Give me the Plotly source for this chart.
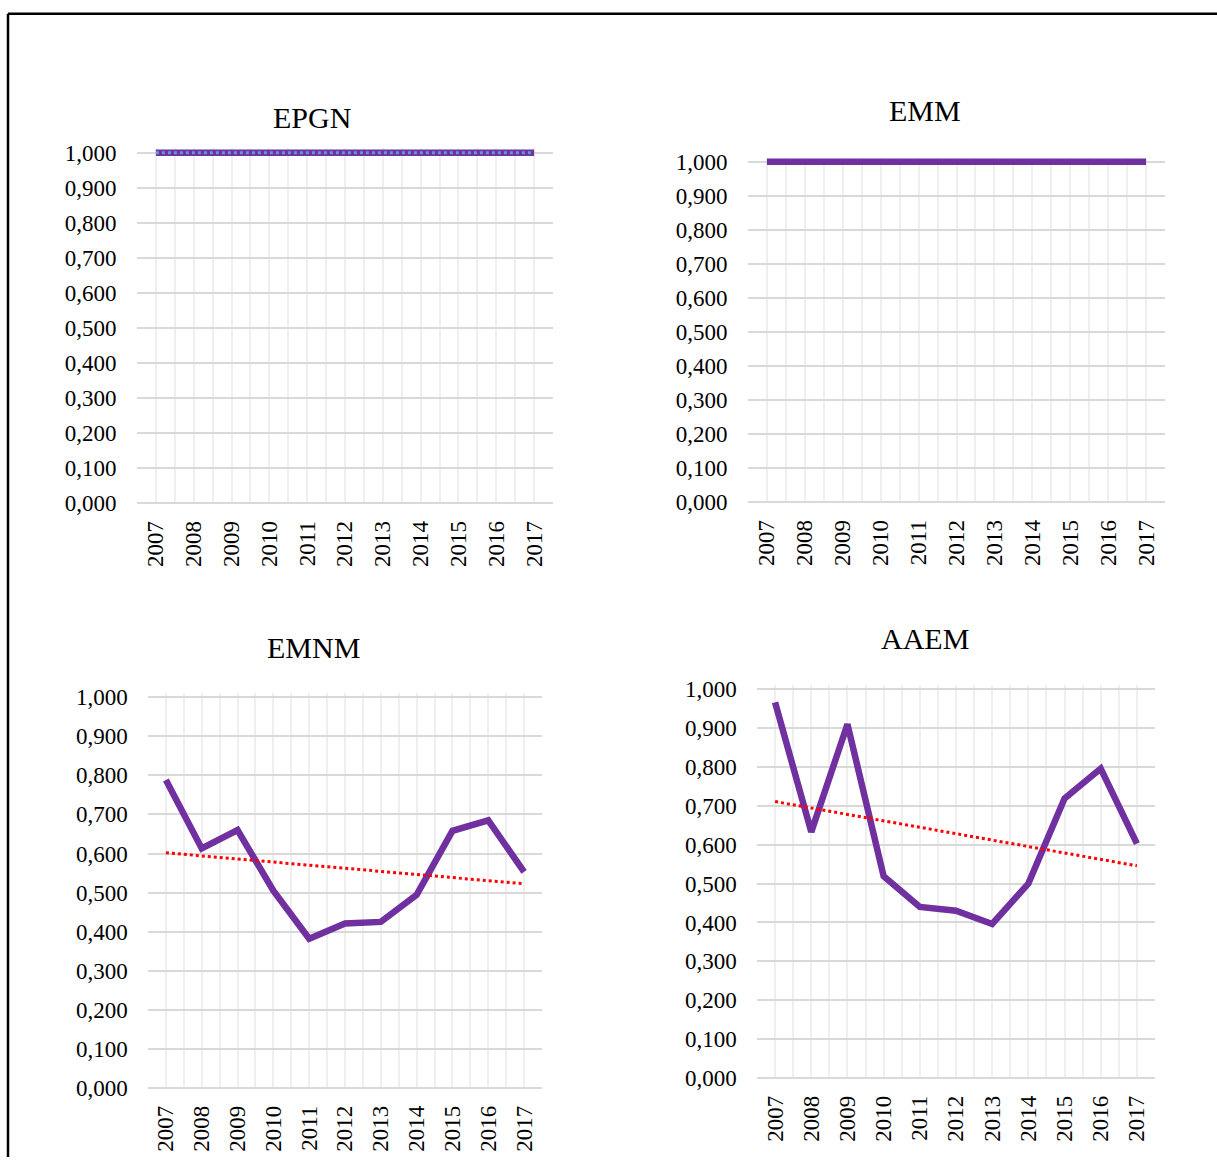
import numpy as np
import plotly.graph_objects as go

# ---- data -------------------------------------------------------------
years = [2007, 2008, 2009, 2010, 2011, 2012, 2013, 2014, 2015, 2016, 2017]
year_labels = [str(y) for y in years]

epgn = [1.000, 1.000, 1.000, 1.000, 1.000, 1.000, 1.000, 1.000, 1.000, 1.000, 1.000]
emm = [1.000, 1.000, 1.000, 1.000, 1.000, 1.000, 1.000, 1.000, 1.000, 1.000, 1.000]
emnm = [0.788, 0.613, 0.660, 0.505, 0.382, 0.421, 0.425, 0.494, 0.658, 0.685, 0.553]
aaem = [0.966, 0.633, 0.910, 0.519, 0.440, 0.430, 0.396, 0.500, 0.719, 0.796, 0.603]

y_ticks = [0.0, 0.1, 0.2, 0.3, 0.4, 0.5, 0.6, 0.7, 0.8, 0.9, 1.0]

# ---- page geometry (pixels) ----------------------------------------------
W, H = 1217, 1169
FONT = "Liberation Serif"
PURPLE = "#7030A0"

# vertical layout positions are given as page rows; the page shows the
# figure 7.2 px down and squeezed by 0.9837, so convert to figure rows
TOP_OFFSET, V_SCALE = 7.2, 0.9837


def fig_row(page_row):
    return (page_row - TOP_OFFSET) / V_SCALE


def paper_y(page_row):
    return 1 - fig_row(page_row) / H


# each panel: title, series, trend colour, title centre, plot left/right px,
# page row of value 1.0 and of 0.0
panels = [
    dict(title="EPGN", vals=epgn, trend="#5B9BD5", tpos=(312, 117),
         xl=137, xr=553, y1=152, y0=503),
    dict(title="EMM", vals=emm, trend=None, tpos=(925, 110),
         xl=748, xr=1165, y1=161, y0=502),
    dict(title="EMNM", vals=emnm, trend="#FF0000", tpos=(313, 647),
         xl=148, xr=542, y1=697, y0=1088),
    dict(title="AAEM", vals=aaem, trend="#FF0000", tpos=(925, 638),
         xl=757, xr=1155, y1=689, y0=1078),
]

X_RANGE = [2006.49, 2017.51]
Y_RANGE = [-0.003, 1.012]

fig = go.Figure()
annotations = []

for i, p in enumerate(panels, start=1):
    xa = "x" if i == 1 else f"x{i}"
    ya = "y" if i == 1 else f"y{i}"

    # horizontal domain: plot edges sit half a category outside first/last year
    sx = (p["xr"] - p["xl"]) / (2017.5 - 2006.5)
    px_l = p["xl"] + (X_RANGE[0] - 2006.5) * sx
    px_r = p["xl"] + (X_RANGE[1] - 2006.5) * sx
    # vertical domain from the rows of 0 and 1
    r0, r1 = fig_row(p["y0"]), fig_row(p["y1"])
    sy = r0 - r1
    py_bot = r0 - Y_RANGE[0] * sy
    py_top = r0 - Y_RANGE[1] * sy

    fig.add_trace(go.Scatter(
        x=years, y=p["vals"], mode="lines",
        line=dict(color=PURPLE, width=6.5),
        xaxis=xa, yaxis=ya, showlegend=False,
    ))

    if p["trend"]:
        slope, intercept = np.polyfit(years, p["vals"], 1)
        trend_vals = [slope * yr + intercept for yr in years]
        fig.add_trace(go.Scatter(
            x=years, y=trend_vals, mode="lines",
            line=dict(color=p["trend"], width=3, dash="dot"),
            xaxis=xa, yaxis=ya, showlegend=False,
        ))

    xkey = "xaxis" if i == 1 else f"xaxis{i}"
    ykey = "yaxis" if i == 1 else f"yaxis{i}"
    fig.layout[xkey] = dict(
        domain=[px_l / W, px_r / W], anchor=ya,
        range=X_RANGE, tickmode="array", tickvals=years, ticktext=year_labels,
        tickangle=-90, tickfont=dict(family=FONT, size=23, color="#000"),
        showgrid=True, gridcolor="#efefef", gridwidth=2,
        minor=dict(tickmode="linear", tick0=2006.5, dtick=1,
                   showgrid=True, gridcolor="#efefef", gridwidth=2),
        zeroline=False, showline=False, ticks="", ticklabelstandoff=11,
    )
    fig.layout[ykey] = dict(
        domain=[1 - py_bot / H, 1 - py_top / H], anchor=xa,
        range=Y_RANGE, tickmode="array", tickvals=y_ticks, tickformat=".3f",
        tickfont=dict(family=FONT, size=23, color="#000"),
        showgrid=True, gridcolor="#d9d9d9", gridwidth=2,
        zeroline=False, showline=False, ticks="", ticklabelstandoff=19,
    )

    annotations.append(dict(
        text=p["title"], x=p["tpos"][0] / W, y=paper_y(p["tpos"][1]),
        xref="paper", yref="paper", xanchor="center", yanchor="middle",
        showarrow=False, font=dict(family=FONT, size=30, color="#000"),
    ))

# frame around the figure block (top and left edges)
shapes = [
    dict(type="line", xref="paper", yref="paper",
         x0=8 / W, x1=1.0, y0=paper_y(13), y1=paper_y(13),
         line=dict(color="#000", width=2.5)),
    dict(type="line", xref="paper", yref="paper",
         x0=8 / W, x1=8 / W, y0=paper_y(13), y1=0,
         line=dict(color="#000", width=2.5)),
]

fig.update_layout(
    width=W, height=H,
    margin=dict(l=0, r=0, t=0, b=0),
    paper_bgcolor="white", plot_bgcolor="white",
    separators=",.",
    annotations=annotations, shapes=shapes,
    showlegend=False,
)

fig.write_html("out.html")
